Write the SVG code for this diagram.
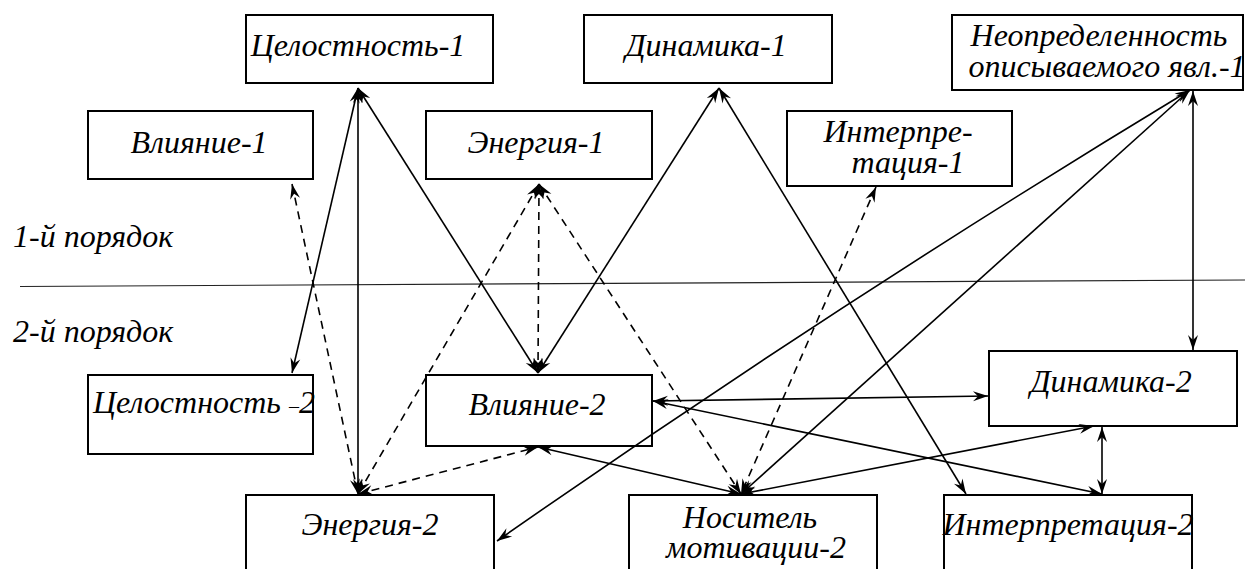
<svg xmlns="http://www.w3.org/2000/svg" width="1245" height="569" viewBox="0 0 1245 569">
<style>
.box{fill:#fff;stroke:#000;stroke-width:2}
.c{fill:none;stroke:#000;stroke-width:1.6;marker-start:url(#ah);marker-end:url(#ah)}
.d{stroke-dasharray:8 6}
</style>
<defs>
<marker id="ah" viewBox="-16 -6 17 12" refX="0" refY="0" markerWidth="17" markerHeight="12" orient="auto-start-reverse" markerUnits="userSpaceOnUse">
<path d="M0,0 L-15,-5 L-10,0 L-15,5 Z" fill="#000"/>
</marker>
</defs>
<rect width="1245" height="569" fill="#fff"/>
<line x1="20" y1="286.5" x2="1245" y2="280" stroke="#222" stroke-width="1.2"/>
<g font-family="Liberation Serif, Times New Roman, serif" font-style="italic" font-size="32" fill="#000">
<text x="13" y="247">1-й порядок</text>
<text x="13" y="342">2-й порядок</text>
<g text-anchor="middle">
<g id="n-celost1"><rect class="box" x="246" y="15" width="247" height="68"/><text x="358" y="56">Целостность-1</text></g>
<g id="n-dinam1"><rect class="box" x="584" y="15" width="248" height="68"/><text x="706" y="56">Динамика-1</text></g>
<g id="n-neopr1"><rect class="box" x="952" y="15" width="291" height="75"/><text><tspan x="1099" y="46">Неопределенность</tspan><tspan x="1107" y="77">описываемого явл.-1</tspan></text></g>
<g id="n-vliyan1"><rect class="box" x="88" y="111" width="225" height="68"/><text x="199" y="153">Влияние-1</text></g>
<g id="n-energ1"><rect class="box" x="426" y="111" width="226" height="68"/><text x="536" y="153">Энергия-1</text></g>
<g id="n-interp1"><rect class="box" x="787" y="111" width="225" height="75"/><text><tspan x="898" y="142">Интерпре-</tspan><tspan x="908" y="173">тация-1</tspan></text></g>
<g id="n-celost2"><rect class="box" x="88" y="375" width="225" height="79"/><text x="93" y="413" text-anchor="start">Целостность <tspan font-size="20">–</tspan>2</text></g>
<g id="n-vliyan2"><rect class="box" x="426" y="375" width="226" height="71"/><text x="537" y="415">Влияние-2</text></g>
<g id="n-dinam2"><rect class="box" x="989" y="351" width="248" height="75"/><text x="1111" y="392">Динамика-2</text></g>
<g id="n-energ2"><rect class="box" x="246" y="495" width="248" height="90"/><text x="370" y="535">Энергия-2</text></g>
<g id="n-nositel2"><rect class="box" x="629" y="495" width="248" height="90"/><text><tspan x="750" y="528">Носитель</tspan><tspan x="756" y="558">мотивации-2</tspan></text></g>
<g id="n-interp2"><rect class="box" x="944" y="495" width="248" height="90"/><text x="1068" y="535">Интерпретация-2</text></g>
</g>
</g>
<g id="connectors">
<path class="c" d="M358,88 L292,373"/>
<path class="c" d="M358,88 L358,494"/>
<path class="c" d="M358,88 L538,373"/>
<path class="c" d="M719,88 L538,373"/>
<path class="c" d="M719,88 L966,494"/>
<path class="c d" d="M539,184 L538,373"/>
<path class="c d" d="M539,184 L358,494"/>
<path class="c d" d="M539,184 L741,494"/>
<path class="c d" d="M292,184 L358,494"/>
<path class="c d" d="M358,494 L538,447"/>
<path class="c" d="M538,447 L741,494"/>
<path class="c d" d="M876,187 L741,494"/>
<path class="c" d="M1190,90 Q836,304 497,541"/>
<path class="c" d="M1190,90 L741,494"/>
<path class="c" d="M1193,91 L1193,350"/>
<path class="c" d="M653,401 L988,396"/>
<path class="c" d="M653,401 L1102,494"/>
<path class="c" d="M1102,427 L1102,494"/>
<path class="c" d="M741,494 L1094,426"/>
</g>
</svg>
